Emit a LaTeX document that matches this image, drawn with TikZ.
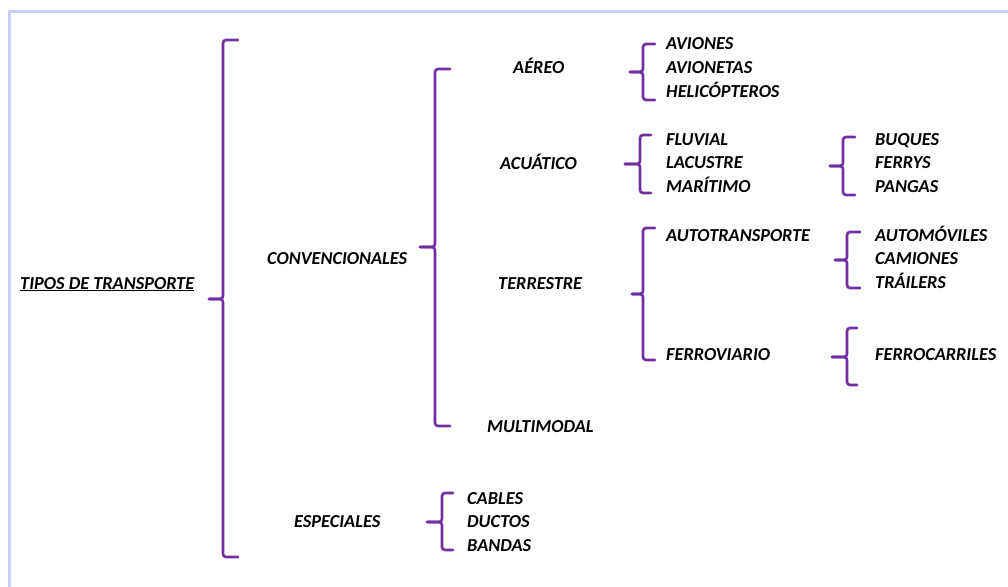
\documentclass[tikz,border=0pt]{standalone}
\usepackage{fontspec}
\setmainfont{Carlito}[BoldItalicFont={Carlito Bold Italic}]
\definecolor{bracepurple}{HTML}{7030A0}
\definecolor{framelav}{HTML}{CCCCFF}
\tikzset{
  lbl/.style={anchor=base west, inner sep=0pt, font=\fontsize{18.3}{21}\selectfont\bfseries\itshape, text=black},
  brc/.style={draw=bracepurple, line width=2.6pt, rounded corners=3pt, line cap=round}
}
\newcommand{\mybrace}[6]{% tipx, vx, hx, top, tipy, bot
  \draw[brc] (#3,#4) -- (#2,#4) -- (#2,#5) -- (#1,#5);
  \draw[brc] (#1,#5) -- (#2,#5) -- (#2,#6) -- (#3,#6);
}
\begin{document}
\begin{tikzpicture}[x=1pt,y=-1pt]
\useasboundingbox (0,0) rectangle (1008,586);
\fill[white] (0,0) rectangle (1008,586);
% frame
\draw[framelav, line width=3pt] (9.5,600) -- (9.5,11.5) -- (1020,11.5);
% braces
\mybrace{209}{223}{238}{40}{299}{557}
\mybrace{420}{435}{450}{69}{247}{426}
\mybrace{630}{643}{655}{44}{72}{100}
\mybrace{625}{640}{651}{135}{164}{193}
\mybrace{632}{643}{655}{228}{294}{360}
\mybrace{830}{843}{855}{137}{166}{195}
\mybrace{835}{847}{860}{232}{260}{288}
\mybrace{832}{847}{857}{328}{357}{385}
\mybrace{427}{442}{453}{493}{522}{550}
% labels
\node[lbl] (tipos) at (20,289) {\underline{TIPOS DE TRANSPORTE}};
\node[lbl] (conv) at (267,264) {CONVENCIONALES};
\node[lbl] (esp) at (294,527) {ESPECIALES};
\node[lbl] (aereo) at (513,74) {AÉREO};
\node[lbl] (acua) at (500,169) {ACUÁTICO};
\node[lbl] (terr) at (498,289) {TERRESTRE};
\node[lbl] (multi) at (487,432) {MULTIMODAL};
\node[lbl] (avi) at (666,49) {AVIONES};
\node[lbl] (avta) at (666,73) {AVIONETAS};
\node[lbl] (heli) at (666,97) {HELICÓPTEROS};
\node[lbl] (flu) at (666,145) {FLUVIAL};
\node[lbl] (lac) at (666,168) {LACUSTRE};
\node[lbl] (mar) at (666,192) {MARÍTIMO};
\node[lbl] (buq) at (875,145) {BUQUES};
\node[lbl] (fer) at (875,168) {FERRYS};
\node[lbl] (pan) at (875,192) {PANGAS};
\node[lbl] (auto) at (666,241) {AUTOTRANSPORTE};
\node[lbl] (autom) at (875,241) {AUTOMÓVILES};
\node[lbl] (cam) at (875,264) {CAMIONES};
\node[lbl] (tra) at (875,288) {TRÁILERS};
\node[lbl] (ferro) at (666,360) {FERROVIARIO};
\node[lbl] (ferroc) at (875,360) {FERROCARRILES};
\node[lbl] (cab) at (467,504) {CABLES};
\node[lbl] (duc) at (467,527) {DUCTOS};
\node[lbl] (ban) at (467,551) {BANDAS};
\end{tikzpicture}
\end{document}
